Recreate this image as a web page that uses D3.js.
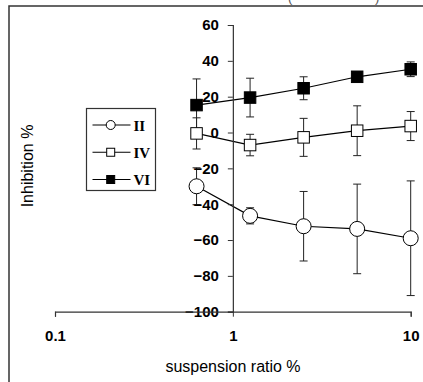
<!DOCTYPE html>
<html>
<head>
<meta charset="utf-8">
<script src="https://cdn.jsdelivr.net/npm/d3@7"></script>
<style>
  html, body { margin: 0; padding: 0; background: #fff; }
  svg { display: block; }
</style>
</head>
<body>
<div id="chart"></div>
<script>
// suspension ratio (%) on log axis
const ratios = [0.625, 1.25, 2.5, 5, 10];

const seriesNames = ['II', 'IV', 'VI'];
const valuesII = [-30, -46.5, -52.3, -53.8, -59];
const errorsII = [10.3, 4.5, 19.4, 25, 32];
const valuesIV = [-0.5, -7, -2.7, 1, 3.6];
const errorsIV = [8.7, 6, 10.6, 13.9, 8.1];
const valuesVI = [15.3, 19.5, 24.7, 31.1, 35.3];
const errorsVI = [14.6, 10.8, 6.4, 2.5, 4.1];

const yTicks = [-100, -80, -60, -40, -20, 0, 20, 40, 60];
const xTicks = [0.1, 1, 10];

const width = 423;
const height = 382;

const series = [
  { name: 'II', values: valuesII, errors: errorsII, shape: 'circle', fill: '#fff' },
  { name: 'IV', values: valuesIV, errors: errorsIV, shape: 'square', fill: '#fff' },
  { name: 'VI', values: valuesVI, errors: errorsVI, shape: 'square', fill: '#000' }
];

const svg = d3.select('#chart')
  .append('svg')
  .attr('width', width)
  .attr('height', height);

// outer frame (right and bottom edges fall outside the picture)
svg.append('rect')
  .attr('x', 9).attr('y', 6)
  .attr('width', 440).attr('height', 400)
  .attr('fill', 'none')
  .attr('stroke', '#333')
  .attr('stroke-width', 1.5);

// bits of a caption cut off above the frame
svg.append('text').attr('x', 288).attr('y', 2).attr('font-family', 'Arial, Liberation Sans, sans-serif')
  .attr('font-size', 13).attr('fill', '#555').text('(');
svg.append('text').attr('x', 375).attr('y', 2).attr('font-family', 'Arial, Liberation Sans, sans-serif')
  .attr('font-size', 13).attr('fill', '#555').text(')');

const x = d3.scaleLog().domain([0.1, 10]).range([55, 410.7]);
const y = d3.scaleLinear().domain([-100, 60]).range([311.7, 25]);

const font = 'Arial, "Liberation Sans", sans-serif';

// series: error bars, lines, markers
const line = d3.line()
  .x((d, i) => x(ratios[i]))
  .y(d => y(d));

series.forEach(s => {
  const g = svg.append('g').attr('class', 'series-' + s.name);

  const eb = g.selectAll('g.err')
    .data(s.values.map((v, i) => ({ v, e: s.errors[i], r: ratios[i] })))
    .enter().append('g').attr('class', 'err')
    .attr('stroke', '#222')
    .attr('stroke-width', 1);
  eb.append('line')
    .attr('x1', d => x(d.r)).attr('x2', d => x(d.r))
    .attr('y1', d => y(d.v - d.e)).attr('y2', d => y(d.v + d.e));
  eb.append('line')
    .attr('x1', d => x(d.r) - 4).attr('x2', d => x(d.r) + 4)
    .attr('y1', d => y(d.v + d.e)).attr('y2', d => y(d.v + d.e));
  eb.append('line')
    .attr('x1', d => x(d.r) - 4).attr('x2', d => x(d.r) + 4)
    .attr('y1', d => y(d.v - d.e)).attr('y2', d => y(d.v - d.e));
});

series.forEach(s => {
  svg.append('path')
    .datum(s.values)
    .attr('d', line)
    .attr('fill', 'none')
    .attr('stroke', '#000')
    .attr('stroke-width', 1.2);
});

series.forEach(s => {
  const pts = s.values.map((v, i) => ({ v, r: ratios[i] }));
  if (s.shape === 'circle') {
    svg.append('g').selectAll('circle')
      .data(pts)
      .enter().append('circle')
      .attr('cx', d => x(d.r))
      .attr('cy', d => y(d.v))
      .attr('r', 7.5)
      .attr('fill', s.fill)
      .attr('stroke', '#000')
      .attr('stroke-width', 1);
  } else {
    svg.append('g').selectAll('rect')
      .data(pts)
      .enter().append('rect')
      .attr('x', d => x(d.r) - 5.75)
      .attr('y', d => y(d.v) - 5.75)
      .attr('width', 11.5)
      .attr('height', 11.5)
      .attr('fill', s.fill)
      .attr('stroke', '#000')
      .attr('stroke-width', 1);
  }
});

// y axis
const yAxis = svg.append('g')
  .attr('transform', 'translate(' + x(1) + ',0)')
  .call(d3.axisLeft(y).tickValues(yTicks).tickSize(5).tickPadding(9));
yAxis.select('.domain').attr('stroke', '#333').attr('stroke-width', 1.2);
yAxis.selectAll('.tick line').attr('stroke', '#333');
yAxis.selectAll('.tick text')
  .attr('font-family', font)
  .attr('font-size', 15)
  .attr('font-weight', 'bold')
  .attr('fill', '#000');

// x axis
const xAxis = svg.append('g')
  .attr('transform', 'translate(0,' + y(-100) + ')')
  .call(d3.axisBottom(x).tickValues(xTicks).tickFormat(d3.format('~g')).tickSize(5).tickPadding(14));
xAxis.select('.domain').attr('stroke', '#333').attr('stroke-width', 1.2);
xAxis.selectAll('.tick line').attr('stroke', '#333');
xAxis.selectAll('.tick text')
  .attr('font-family', font)
  .attr('font-size', 15)
  .attr('font-weight', 'bold')
  .attr('fill', '#000');

// axis titles
svg.append('text')
  .attr('x', 233)
  .attr('y', 372)
  .attr('text-anchor', 'middle')
  .attr('font-family', font)
  .attr('font-size', 16)
  .attr('fill', '#000')
  .text('suspension ratio %');

svg.append('text')
  .attr('transform', 'translate(33,166) rotate(-90)')
  .attr('text-anchor', 'middle')
  .attr('font-family', font)
  .attr('font-size', 16)
  .attr('fill', '#000')
  .text('Inhibition %');

// legend
const legend = svg.append('g');
legend.append('rect')
  .attr('x', 86.5).attr('y', 108.5)
  .attr('width', 69).attr('height', 82)
  .attr('fill', '#fff')
  .attr('stroke', '#333')
  .attr('stroke-width', 1.2);

const legendY = d3.scalePoint().domain(seriesNames).range([125, 179.5]);

series.forEach(s => {
  const ly = legendY(s.name);
  legend.append('line')
    .attr('x1', 92.5).attr('x2', 130.5)
    .attr('y1', ly).attr('y2', ly)
    .attr('stroke', '#000').attr('stroke-width', 1.2);
  if (s.shape === 'circle') {
    legend.append('circle')
      .attr('cx', 110.7).attr('cy', ly).attr('r', 4.5)
      .attr('fill', s.fill).attr('stroke', '#000');
  } else {
    legend.append('rect')
      .attr('x', 110.7 - 4).attr('y', ly - 4)
      .attr('width', 8).attr('height', 8)
      .attr('fill', s.fill).attr('stroke', '#000');
  }
  legend.append('text')
    .attr('x', 133.5)
    .attr('y', ly + 5.5)
    .attr('font-family', '"Liberation Serif", "Times New Roman", serif')
    .attr('font-size', 15)
    .attr('font-weight', 'bold')
    .attr('fill', '#000')
    .text(s.name);
});
</script>
</body>
</html>
